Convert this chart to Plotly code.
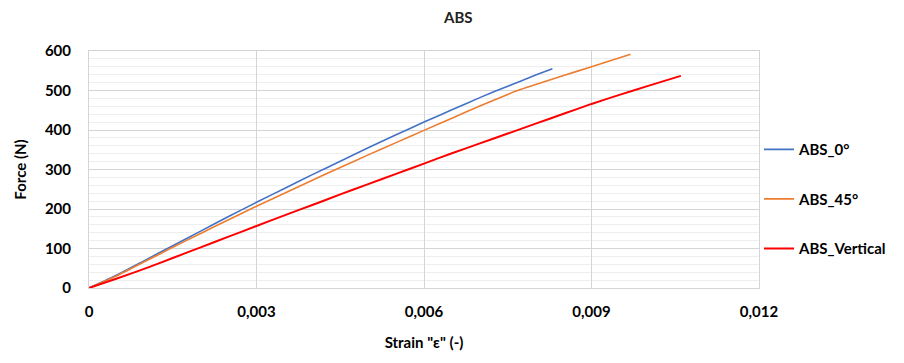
import plotly.graph_objects as go

# ---- data ----
strain_0 = [0, 0.0005, 0.001, 0.0015, 0.002, 0.0025, 0.003, 0.0035, 0.004, 0.0045,
            0.005, 0.0055, 0.006, 0.0065, 0.007, 0.0075, 0.008, 0.0083]
force_0 = [0, 33, 70, 107, 144, 181, 217, 252, 287, 321,
           355, 388, 420, 451, 482, 511, 539, 555]

strain_45 = [0, 0.0005, 0.001, 0.0015, 0.002, 0.0025, 0.003, 0.0035, 0.004, 0.0045,
             0.005, 0.0055, 0.006, 0.0065, 0.007, 0.0075, 0.0077, 0.008, 0.0085, 0.009, 0.0097]
force_45 = [0, 31, 67, 103, 138, 173, 207, 240, 273, 305,
            337, 368, 399, 430, 461, 490, 501, 515, 538, 560, 592]

strain_v = [0, 0.0005, 0.001, 0.0015, 0.002, 0.0025, 0.003, 0.0035, 0.004, 0.0045,
            0.005, 0.0055, 0.006, 0.0065, 0.007, 0.0075, 0.008, 0.0085, 0.009, 0.0095, 0.01, 0.0106]
force_v = [0, 24, 49, 76, 103, 130, 157, 184, 210, 237,
           263, 289, 315, 341, 366, 391, 416, 441, 466, 489, 511, 537]

series_names = ["ABS_0°", "ABS_45°", "ABS_Vertical"]
series_colors = ["#4472C4", "#ED7D31", "#FF0000"]

x_tickvals = [0, 0.003, 0.006, 0.009, 0.012]
x_ticktext = ["0", "0,003", "0,006", "0,009", "0,012"]
y_tickvals = [0, 100, 200, 300, 400, 500, 600]

FONT = "Lato, 'Open Sans', sans-serif"

fig = go.Figure()
for name, color, xs, ys, w in zip(series_names, series_colors,
                                  [strain_0, strain_45, strain_v],
                                  [force_0, force_45, force_v],
                                  [1.6, 1.6, 2.0]):
    fig.add_trace(go.Scatter(x=xs, y=ys, mode="lines", name="<b>" + name + "</b>",
                             legendgroup=name,
                             line=dict(color=color, width=w, shape="spline", smoothing=0.4)))

fig.update_layout(
    width=904, height=363,
    margin=dict(l=89, r=141, t=51, b=75),
    paper_bgcolor="white", plot_bgcolor="white",
    font=dict(family=FONT, color="#000000"),
    title=dict(text="<b>ABS</b>", x=0.507, xref="container", xanchor="center",
               y=0.95, yref="container", yanchor="middle",
               font=dict(size=15, family=FONT, color="#222222")),
    legend=dict(x=1.0, xanchor="left", y=0.375, yanchor="middle",
                font=dict(size=15, family=FONT, color="#000000"),
                tracegroupgap=27, itemwidth=30, bgcolor="rgba(0,0,0,0)"),
    showlegend=True,
)

fig.update_xaxes(
    range=[0, 0.012], tickvals=x_tickvals, ticktext=["<b>" + t + "</b>" for t in x_ticktext],
    showgrid=True, gridcolor="#d4d4d4", gridwidth=1,
    zeroline=False, showline=True, linecolor="#d4d4d4", mirror=True,
    ticks="", ticklabelstandoff=10,
    tickfont=dict(size=15, family=FONT, color="#000000"),
    title=dict(text="<b>Strain \"ε\" (-)</b>", standoff=18,
               font=dict(size=15, family=FONT, color="#000000")),
)

fig.update_yaxes(
    range=[0, 600], tickvals=y_tickvals, ticktext=["<b>" + str(v) + "</b>" for v in y_tickvals],
    showgrid=True, gridcolor="#d4d4d4", gridwidth=1,
    minor=dict(dtick=20, showgrid=True, gridcolor="#eeeeee", gridwidth=1),
    zeroline=False, showline=True, linecolor="#d4d4d4", mirror=True,
    ticks="", ticklabelstandoff=14,
    tickfont=dict(size=15, family=FONT, color="#000000"),
    title=dict(text="<b>Force (N)</b>", standoff=14,
               font=dict(size=15, family=FONT, color="#000000")),
)

fig.write_html("out.html")
